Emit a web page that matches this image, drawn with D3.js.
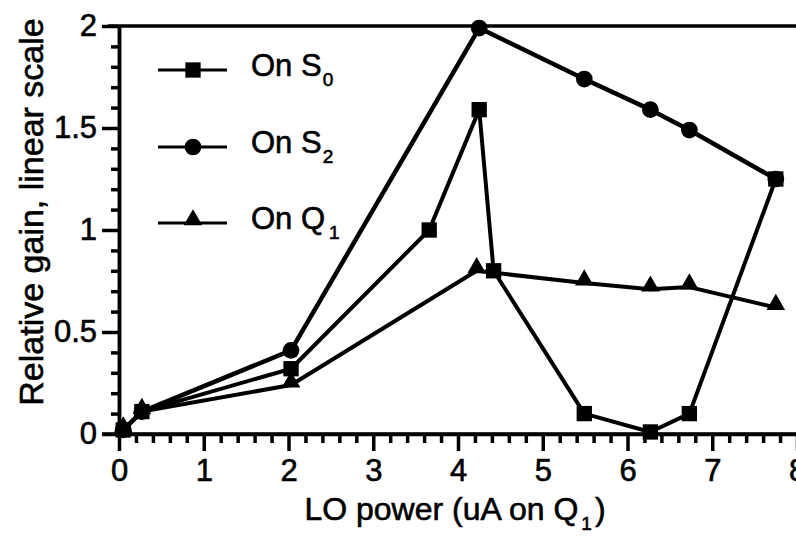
<!DOCTYPE html>
<html>
<head>
<meta charset="utf-8">
<script src="https://cdn.jsdelivr.net/npm/d3@7"></script>
<style>
  html, body { margin: 0; padding: 0; background: #fff; }
  svg { display: block; font-family: "Liberation Sans", Arial, Helvetica, sans-serif; }
</style>
</head>
<body>
<svg id="chart" width="796" height="539"></svg>
<script>
// LO power sweep: relative gain measured on three nodes
const seriesNames = ["S0", "S2", "Q1"];
const xS0 = [0.05, 0.27, 2.03, 3.66, 4.25, 4.42, 5.49, 6.27, 6.73, 7.75];
const yS0 = [0.02, 0.11, 0.32, 1.00, 1.59, 0.80, 0.10, 0.01, 0.10, 1.25];
const xS2 = [0.05, 0.27, 2.03, 4.25, 5.49, 6.27, 6.73, 7.75];
const yS2 = [0.02, 0.11, 0.41, 1.99, 1.74, 1.59, 1.49, 1.25];
const xQ1 = [0.05, 0.27, 2.03, 4.22, 5.49, 6.27, 6.73, 7.75];
const yQ1 = [0.02, 0.11, 0.24, 0.80, 0.74, 0.71, 0.72, 0.62];
const xTicks = [0, 1, 2, 3, 4, 5, 6, 7, 8];
const yTicks = [0, 0.5, 1, 1.5, 2];
const yTickLabels = ["0", "0.5", "1", "1.5", "2"];

const svg = d3.select("#chart");
const x = d3.scaleLinear().domain([0, 8]).range([119, 797]);
const y = d3.scaleLinear().domain([0, 2]).range([434, 26]);

const axisStroke = 3.5;
const textStroke = 0.6;

// minor ticks
const xMinor = d3.range(0, 8.0001, 0.2).filter(v => Math.abs(v - Math.round(v)) > 1e-6);
const yMinor = d3.range(0, 2.0001, 0.1).filter(v => Math.abs(v * 2 - Math.round(v * 2)) > 1e-6);

const gxMinor = svg.append("g").attr("transform", `translate(0,${y(0)})`)
  .call(d3.axisBottom(x).tickValues(xMinor).tickSize(9).tickSizeOuter(0).tickFormat(""));
const gyMinor = svg.append("g").attr("transform", `translate(${x(0)},0)`)
  .call(d3.axisLeft(y).tickValues(yMinor).tickSize(8).tickSizeOuter(0).tickFormat(""));

const gx = svg.append("g").attr("transform", `translate(0,${y(0)})`)
  .call(d3.axisBottom(x).tickValues(xTicks).tickSize(17).tickSizeOuter(0).tickPadding(8)
    .tickFormat(d3.format("d")));
const gy = svg.append("g").attr("transform", `translate(${x(0)},0)`)
  .call(d3.axisLeft(y).tickValues(yTicks).tickSize(17).tickSizeOuter(0).tickPadding(5)
    .tickFormat((d, i) => yTickLabels[i]));

[gxMinor, gyMinor, gx, gy].forEach(g => {
  g.selectAll("path, line").attr("stroke", "#000").attr("stroke-width", axisStroke);
  g.selectAll("text").attr("fill", "#000").attr("font-size", 31)
    .attr("stroke", "#000").attr("stroke-width", textStroke)
    .attr("font-family", "'Liberation Sans', Arial, sans-serif");
});
gx.select(".domain").attr("d", `M${x(0) - 17},0H796`);

// top frame line at y = 2
svg.append("line")
  .attr("x1", x(0) - 11).attr("x2", 796)
  .attr("y1", y(2)).attr("y2", y(2))
  .attr("stroke", "#000").attr("stroke-width", axisStroke);

// axis titles
svg.append("text")
  .attr("x", 455).attr("y", 520)
  .attr("text-anchor", "middle").attr("font-size", 32)
  .attr("stroke", "#000").attr("stroke-width", textStroke)
  .call(t => {
    t.append("tspan").text("LO power (uA on Q");
    t.append("tspan").attr("font-size", 19).attr("dy", 10).attr("dx", 3).text("1");
    t.append("tspan").attr("dy", -10).attr("dx", 3).text(")");
  });

svg.append("text")
  .attr("transform", `translate(43,${212}) rotate(-90)`)
  .attr("text-anchor", "middle").attr("font-size", 34)
  .attr("stroke", "#000").attr("stroke-width", textStroke)
  .text("Relative gain, linear scale");

// data series
const series = [
  { name: "S0", xs: xS0, ys: yS0, shape: d3.symbolSquare },
  { name: "S2", xs: xS2, ys: yS2, shape: d3.symbolCircle },
  { name: "Q1", xs: xQ1, ys: yQ1, shape: d3.symbolTriangle }
];
const symSize = { S0: 235, S2: 220, Q1: 150 };
const lineWidth = { S0: 4, S2: 4.5, Q1: 4 };

const line = d3.line().x(d => x(d[0])).y(d => y(d[1]));

// draw order: Q1, S2, then S0 on top
[series[2], series[1], series[0]].forEach(s => {
  const pts = s.xs.map((v, i) => [v, s.ys[i]]);
  svg.append("path").datum(pts)
    .attr("d", line)
    .attr("fill", "none").attr("stroke", "#000")
    .attr("stroke-width", lineWidth[s.name]).attr("stroke-linejoin", "round");
  svg.append("g").selectAll("path").data(pts).join("path")
    .attr("transform", d => `translate(${x(d[0])},${y(d[1]) - (s.name === "Q1" ? 3 : 0)})`)
    .attr("d", d3.symbol().type(s.shape).size(symSize[s.name]))
    .attr("fill", "#000");
});

// legend
const legendRows = [
  { shape: d3.symbolSquare, size: 235, main: "On S", sub: "0", yPos: 70 },
  { shape: d3.symbolCircle, size: 220, main: "On S", sub: "2", yPos: 147 },
  { shape: d3.symbolTriangle, size: 150, main: "On Q", sub: "1", yPos: 223 }
];
const lg = svg.append("g");
legendRows.forEach((r, i) => {
  lg.append("line").attr("x1", 158).attr("x2", 227).attr("y1", r.yPos).attr("y2", r.yPos)
    .attr("stroke", "#000").attr("stroke-width", 3);
  lg.append("path")
    .attr("transform", `translate(193,${r.yPos - (i === 2 ? 3 : 0)})`)
    .attr("d", d3.symbol().type(r.shape).size(r.size))
    .attr("fill", "#000");
  const t = lg.append("text").attr("x", 251).attr("y", r.yPos + 6).attr("font-size", 31)
    .attr("stroke", "#000").attr("stroke-width", textStroke);
  t.append("tspan").text(r.main);
  t.append("tspan").attr("font-size", 19).attr("dy", 10).attr("dx", i === 2 ? 4 : 1).text(r.sub);
});
</script>
</body>
</html>
